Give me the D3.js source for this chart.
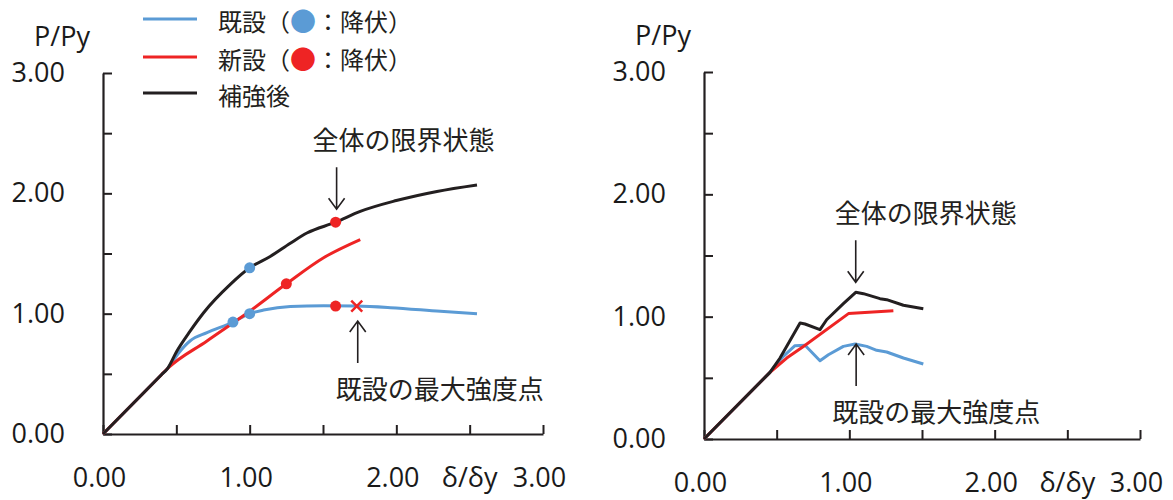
<!DOCTYPE html>
<html lang="ja">
<head>
<meta charset="utf-8">
<style>
body { margin: 0; background: #fff; }
text.num { font-family: "Open Sans", sans-serif; font-size: 27px; fill: #1a1a1a; }
text.jp { font-family: "Noto Sans CJK JP", sans-serif; fill: #231f20; }
</style>
</head>
<body>
<script src="https://d3js.org/d3.v7.min.js"></script>
<script>
// 目盛
const axisTicks = [0, 0.5, 1, 1.5, 2, 2.5, 3];
const labelTicks = [0, 1, 2, 3];

// 左図 (δ/δy, P/Py)
const leftExisting = [[0,0],[0.2,0.247],[0.4,0.495],[0.44,0.544],[0.52,0.68],[0.595,0.775],[0.709,0.842],[0.886,0.93],[1.0,1.0],[1.095,1.03],[1.277,1.06],[1.504,1.066],[1.73,1.063],[1.96,1.05],[2.3,1.02],[2.55,1.0]];
const leftNew = [[0,0],[0.2,0.247],[0.4,0.495],[0.44,0.544],[0.709,0.773],[1.0,1.02],[1.25,1.248],[1.504,1.465],[1.754,1.616]];
const leftRetrofit = [[0,0],[0.2,0.247],[0.4,0.495],[0.44,0.544],[0.504,0.69],[0.595,0.857],[0.686,1.008],[0.868,1.243],[1.0,1.381],[1.14,1.475],[1.277,1.585],[1.39,1.67],[1.586,1.76],[1.754,1.85],[2.0,1.94],[2.277,2.016],[2.55,2.07]];
const leftExistingYield = [[0.886,0.93],[1.0,1.0],[1.0,1.381]];
const leftNewYield = [[1.25,1.248],[1.586,1.76],[1.586,1.063]];
const leftExistingMax = [1.73,1.063];
const leftLimit = [1.586,1.76];

// 右図
const rightExisting = [[0,0],[0.454,0.545],[0.546,0.676],[0.626,0.763],[0.695,0.766],[0.798,0.64],[0.856,0.689],[0.959,0.757],[1.04,0.776],[1.12,0.757],[1.188,0.725],[1.257,0.711],[1.372,0.662],[1.509,0.613]];
const rightNew = [[0,0],[0.454,0.545],[0.569,0.662],[0.684,0.757],[0.994,1.025],[1.303,1.049]];
const rightRetrofit = [[0,0],[0.454,0.545],[0.523,0.662],[0.661,0.948],[0.695,0.94],[0.798,0.894],[0.844,0.975],[0.959,1.106],[1.044,1.199],[1.097,1.188],[1.211,1.147],[1.257,1.139],[1.372,1.093],[1.509,1.065]];
const rightExistingMax = [1.04,0.776];
const rightLimit = [1.044,1.199];

// 凡例・注記
const legendNames = ["既設", "新設", "補強後"];
const limitText = "全体の限界状態";
const maxText = "既設の最大強度点";

const blue = "#5b9bd5", red = "#ee2424", black = "#231f20";

const svg = d3.select("body").append("svg")
  .attr("width", 1173).attr("height", 500);

function drawPanel(p) {
  const x = d3.scaleLinear().domain([0, 3]).range([p.x0, p.x1]);
  const y = d3.scaleLinear().domain([0, 3]).range([p.y0, p.y1]);
  const g = svg.append("g");

  const fmt = d => labelTicks.includes(d) ? d3.format(".2f")(d) : "";

  const ya = g.append("g").attr("transform", `translate(${p.x0},0)`)
    .call(d3.axisLeft(y).tickValues(axisTicks).tickFormat(fmt)
      .tickSizeInner(-9).tickSizeOuter(0).tickPadding(38));
  const xa = g.append("g").attr("transform", `translate(0,${p.y0})`)
    .call(d3.axisBottom(x).tickValues(axisTicks).tickFormat(fmt)
      .tickSizeInner(-9).tickSizeOuter(0).tickPadding(34));
  [ya, xa].forEach(a => {
    a.select(".domain").attr("stroke", black).attr("stroke-width", 2.2);
    a.selectAll(".tick line").attr("stroke", black).attr("stroke-width", 2);
    a.selectAll("text").attr("class", "num").attr("font-family", null).attr("font-size", null);
  });
  xa.selectAll("text").attr("dx", -4);

  // 軸ラベル
  g.append("text").attr("class", "num")
    .attr("x", x(2.5)).attr("y", p.y0 + 34).attr("dy", "0.71em")
    .attr("text-anchor", "middle").text("δ/δy");
  g.append("text").attr("class", "num")
    .attr("x", p.x0 - 41).attr("y", p.y1 - 36).attr("dy", "0.35em")
    .attr("text-anchor", "middle").text("P/Py");

  const line = d3.line().x(d => x(d[0])).y(d => y(d[1]))
    .curve(p.smooth ? d3.curveMonotoneX : d3.curveLinear);

  [[p.existing, blue], [p.fresh, red], [p.retro, black]].forEach(([data, c]) => {
    g.append("path").datum(data).attr("d", line)
      .attr("fill", "none").attr("stroke", c).attr("stroke-width", 3)
      .attr("stroke-linejoin", "round");
  });

  if (p.existingYield) {
    g.selectAll(".by").data(p.existingYield).join("circle")
      .attr("cx", d => x(d[0])).attr("cy", d => y(d[1])).attr("r", 5.5).attr("fill", blue);
    g.selectAll(".ry").data(p.newYield).join("circle")
      .attr("cx", d => x(d[0])).attr("cy", d => y(d[1])).attr("r", 5.5).attr("fill", red);
  }
  if (p.crossMark) {
    const cx = x(p.maxPoint[0]), cy = y(p.maxPoint[1]), s = 5.5;
    g.append("path")
      .attr("d", `M${cx - s},${cy - s}L${cx + s},${cy + s}M${cx - s},${cy + s}L${cx + s},${cy - s}`)
      .attr("stroke", red).attr("stroke-width", 2.5).attr("fill", "none");
  }

  // 注記の矢印
  const lim = [x(p.limit[0]), y(p.limit[1])];
  arrow(g, lim[0] + p.limDx, lim[1] - p.limGap - 42, lim[1] - p.limGap);
  g.append("text").attr("class", "jp").attr("font-size", 26)
    .attr("x", lim[0] + p.limDx + p.limTextDx).attr("y", lim[1] - p.limGap - 42 - 27)
    .attr("dy", "0.36em").text(limitText);

  const mx = [x(p.maxPoint[0]), y(p.maxPoint[1])];
  arrow(g, mx[0] + p.maxDx, mx[1] + p.maxGap + 42, mx[1] + p.maxGap);
  g.append("text").attr("class", "jp").attr("font-size", 26)
    .attr("x", mx[0] + p.maxDx + p.maxTextDx).attr("y", mx[1] + p.maxGap + 42 + 27)
    .attr("dy", "0.36em").text(maxText);
}

function arrow(g, ax, from, to) {
  const dir = to > from ? 1 : -1;
  g.append("path")
    .attr("d", `M${ax},${from}L${ax},${to}M${ax - 8},${to - dir * 11}L${ax},${to}L${ax + 8},${to - dir * 11}`)
    .attr("fill", "none").attr("stroke", black).attr("stroke-width", 1.6);
}

drawPanel({
  x0: 103, x1: 543, y0: 434, y1: 73, smooth: true,
  existing: leftExisting, fresh: leftNew, retro: leftRetrofit,
  existingYield: leftExistingYield, newYield: leftNewYield,
  crossMark: true, maxPoint: leftExistingMax, limit: leftLimit,
  limDx: 1, limGap: 13, limTextDx: -24,
  maxDx: 1, maxGap: 15, maxTextDx: -22
});

drawPanel({
  x0: 704, x1: 1140, y0: 439, y1: 72, smooth: false,
  existing: rightExisting, fresh: rightNew, retro: rightRetrofit,
  maxPoint: rightExistingMax, limit: rightLimit,
  limDx: 0, limGap: 10, limTextDx: -21,
  maxDx: 1, maxGap: 0, maxTextDx: -24
});

// 凡例
const legend = svg.append("g");
const legendColors = [blue, red, black];
const legendY = [19, 57, 93];
legendNames.forEach((name, i) => {
  legend.append("line").attr("x1", 143).attr("x2", 197)
    .attr("y1", legendY[i]).attr("y2", legendY[i])
    .attr("stroke", legendColors[i]).attr("stroke-width", 3);
  const t = legend.append("text").attr("class", "jp").attr("font-size", 24)
    .attr("x", 218).attr("y", legendY[i] + 3).attr("dy", "0.36em");
  t.append("tspan").text(name);
  if (i < 2) {
    t.append("tspan").text("（");
    t.append("tspan").attr("fill", legendColors[i]).attr("font-size", 26).text("●");
    t.append("tspan").text("：降伏）");
  }
});
</script>
</body>
</html>
